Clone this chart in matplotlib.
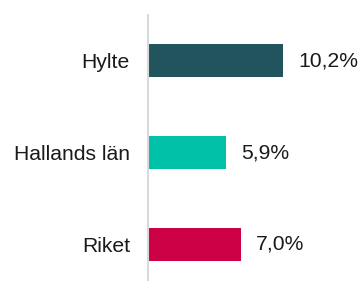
import matplotlib
matplotlib.use("Agg")
import matplotlib.pyplot as plt

# data
categories = ["Hylte", "Hallands län", "Riket"]
values = [10.2, 5.9, 7.0]
colors = ["#21545c", "#00c1a8", "#cc0044"]
value_labels = ["10,2%", "5,9%", "7,0%"]

plt.rcParams["font.family"] = ["Liberation Sans", "DejaVu Sans"]

fig = plt.figure(figsize=(3.61, 2.81), dpi=100)
ax = fig.add_axes([148 / 361, 0, 213 / 361, 1 - 15 / 281])

pos = list(range(len(categories)))
ax.barh(pos, values, height=0.36, color=colors)

for p, v, lab in zip(pos, values, value_labels):
    ax.annotate(lab, (v, p), xytext=(11, 0), textcoords="offset points",
                va="center", ha="left", fontsize=15.2, color="#1a1a1a")

ax.set_xlim(0, 16.1)
ax.set_ylim(2.397, -0.495)
ax.set_yticks(pos)
ax.set_yticklabels(categories, fontsize=15.2, color="#1a1a1a")
ax.tick_params(axis="y", length=0, pad=13)
ax.set_xticks([])

for s in ["top", "right", "bottom"]:
    ax.spines[s].set_visible(False)
ax.spines["left"].set_color("#d9d9d9")
ax.spines["left"].set_linewidth(1.5)

fig.savefig("out.png", dpi=100)
